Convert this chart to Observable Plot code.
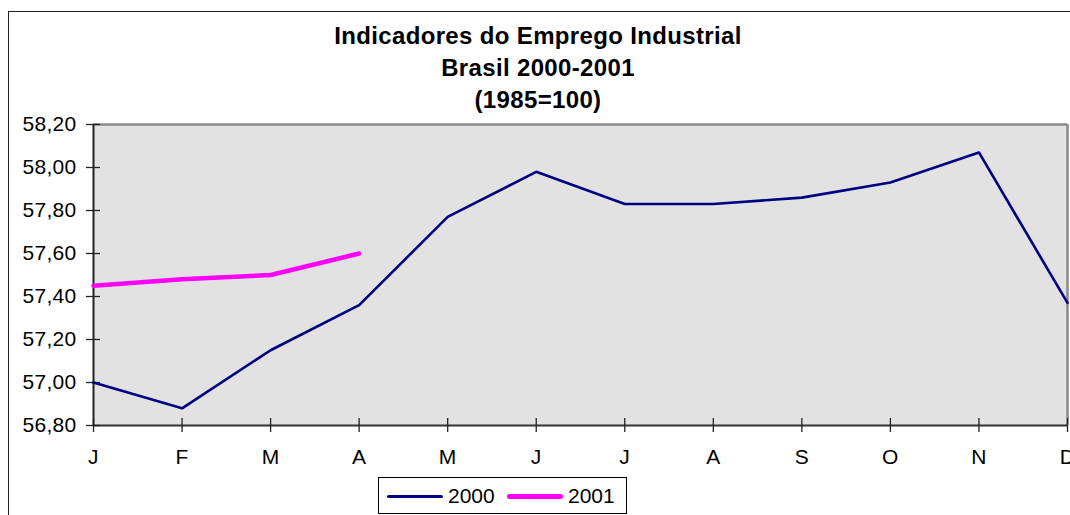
<!DOCTYPE html>
<html>
<head>
<meta charset="utf-8">
<script src="https://cdn.jsdelivr.net/npm/d3@7"></script>
<script src="https://cdn.jsdelivr.net/npm/@observablehq/plot@0.6"></script>
<style>
  html, body { margin: 0; padding: 0; background: #fff; }
  body { width: 1070px; height: 515px; overflow: hidden; position: relative;
         font-family: "Liberation Sans", Arial, Helvetica, sans-serif; color: #000; }
  #frame { position: absolute; left: 8px; top: 11px; width: 1200px; height: 700px;
           border-left: 1.5px solid #222; border-top: 1.5px solid #222; }
  #title { position: absolute; left: 3px; top: 20px; width: 1070px; text-align: center;
           font-weight: bold; font-size: 24px; letter-spacing: 0.35px; line-height: 32px; }
  #chart { position: absolute; left: 0; top: 110px; }
  #legend { position: absolute; left: 378px; top: 477px; width: 247px; height: 35px;
            border: 1px solid #000; background: #fff; }
  #legend .sw { position: absolute; }
  #legend .lab { position: absolute; top: 0; font-size: 21px; line-height: 36px; }
</style>
</head>
<body>
<div id="frame"></div>
<div id="title"></div>
<div id="chart"></div>
<div id="legend"></div>
<script>
// ---- data ----
const titleLines = ["Indicadores do Emprego Industrial", "Brasil 2000-2001", "(1985=100)"];
const months = ["J", "F", "M", "A", "M", "J", "J", "A", "S", "O", "N", "D"];
const series2000 = [57.00, 56.88, 57.15, 57.36, 57.77, 57.98, 57.83, 57.83, 57.86, 57.93, 58.07, 57.37];
const series2001 = [57.45, 57.48, 57.50, 57.60];
const yTicks = [56.80, 57.00, 57.20, 57.40, 57.60, 57.80, 58.00, 58.20];
const seriesNames = ["2000", "2001"];
const seriesColors = ["#000080", "#ff00ff"];

// ---- title ----
document.getElementById("title").innerHTML = titleLines.map(t => `<div>${t}</div>`).join("");

// ---- chart ----
const monthIdx = months.map((m, i) => i);
const fmt = d => d.toFixed(2).replace(".", ",");
const rows2000 = series2000.map((v, i) => ({i, v}));
const rows2001 = series2001.map((v, i) => ({i, v}));

const W = 1070, H = 360, mL = 93, mR = 3, mT = 14, mB = 45;
const plotW = W - mL - mR, plotH = H - mT - mB;

const chart = Plot.plot({
  width: W, height: H,
  marginLeft: mL, marginRight: mR, marginTop: mT, marginBottom: mB,
  style: { fontFamily: "'Liberation Sans', Arial, sans-serif", fontSize: "21px", letterSpacing: "0.3px", color: "#000", background: "transparent", overflow: "visible" },
  x: { type: "linear", domain: [0, months.length - 1] },
  y: { domain: [yTicks[0], yTicks[yTicks.length - 1]] },
  marks: [
    Plot.frame({ fill: "#e2e2e2", stroke: null }),
    Plot.ruleY([yTicks[yTicks.length - 1]], { stroke: "#8a8a8a", strokeWidth: 2.5 }),
    Plot.ruleX([months.length - 1], { stroke: "#8a8a8a", strokeWidth: 2.5 }),
    Plot.ruleX([0], { stroke: "#222", strokeWidth: 2 }),
    Plot.ruleY([yTicks[0]], { stroke: "#333", strokeWidth: 2 }),
    Plot.tickX(monthIdx, { x: d => d, insetTop: plotH - 7, stroke: "#222", strokeWidth: 1.3 }),
    Plot.tickY(yTicks, { y: d => d, insetRight: plotW - 7, stroke: "#222", strokeWidth: 1.3 }),
    Plot.axisX({ ticks: monthIdx, tickFormat: i => months[i], tickSize: 7, tickPadding: 17, stroke: "#222", strokeWidth: 1.3, label: null }),
    Plot.axisY({ ticks: yTicks, tickFormat: fmt, tickSize: 7, tickPadding: 10, stroke: "#222", strokeWidth: 1.3, label: null }),
    Plot.line(rows2000, { x: "i", y: "v", stroke: seriesColors[0], strokeWidth: 2.6 }),
    Plot.line(rows2001, { x: "i", y: "v", stroke: seriesColors[1], strokeWidth: 4.5, strokeLinecap: "round" })
  ]
});
document.getElementById("chart").appendChild(chart);

// ---- legend ----
const lg = document.getElementById("legend");
const swatches = [
  { left: 8, width: 56, h: 3, lab: 69 },
  { left: 128, width: 56, h: 5, lab: 189 }
];
seriesNames.forEach((name, k) => {
  const s = swatches[k];
  const sw = document.createElement("div");
  sw.className = "sw";
  sw.style.left = s.left + "px";
  sw.style.width = s.width + "px";
  sw.style.height = s.h + "px";
  sw.style.top = (18 - s.h / 2) + "px";
  sw.style.background = seriesColors[k];
  sw.style.borderRadius = (s.h / 2) + "px";
  lg.appendChild(sw);
  const t = document.createElement("div");
  t.className = "lab";
  t.style.left = s.lab + "px";
  t.textContent = name;
  lg.appendChild(t);
});
</script>
</body>
</html>
